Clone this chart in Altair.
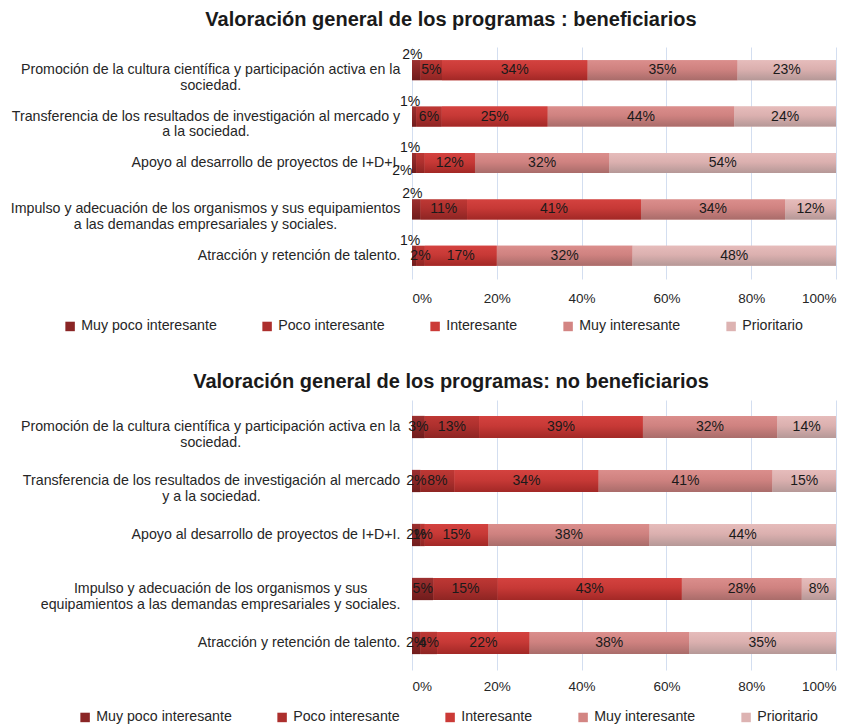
import altair as alt
import pandas as pd

# ---------------- data ----------------
niveles = ["Muy poco interesante", "Poco interesante", "Interesante",
           "Muy interesante", "Prioritario"]

programas_benef = [
    "Promoción de la cultura científica y participación activa en la|sociedad.",
    "Transferencia de los resultados de investigación al mercado y|a la sociedad.",
    "Apoyo al desarrollo de proyectos de I+D+I.",
    "Impulso y adecuación de los organismos y sus equipamientos|a las demandas empresariales y sociales.",
    "Atracción y retención de talento.",
]
programas_nobenef = [
    "Promoción de la cultura científica y participación activa en la|sociedad.",
    "Transferencia de los resultados de investigación al mercado|y a la sociedad.",
    "Apoyo al desarrollo de proyectos de I+D+I.",
    "Impulso y adecuación de los organismos y sus|equipamientos a las demandas empresariales y sociales.",
    "Atracción y retención de talento.",
]

benef_muy_poco = [2, 1, 1, 2, 1]
benef_poco = [5, 6, 2, 11, 2]
benef_interesante = [34, 25, 12, 41, 17]
benef_muy_interesante = [35, 44, 32, 34, 32]
benef_prioritario = [23, 24, 54, 12, 48]

nobenef_muy_poco = [3, 2, 2, 5, 2]
nobenef_poco = [13, 8, 1, 15, 4]
nobenef_interesante = [39, 34, 15, 43, 22]
nobenef_muy_interesante = [32, 41, 38, 28, 38]
nobenef_prioritario = [14, 15, 44, 8, 35]

titulo_benef = "Valoración general de los programas : beneficiarios"
titulo_nobenef = "Valoración general de los programas: no beneficiarios"

ticks_x = [0, 0.2, 0.4, 0.6, 0.8, 1.0]

# ---------------- style ----------------
FONT = "Liberation Sans"
LABEL_FS = 14.2
GAP = 12
TEXT_COLOR = "#262626"
GRID_COLOR = "#D3DEF0"
FLAT = ["#8A2525", "#AC2F2D", "#CB3A37", "#D38583", "#DDB3B2"]
GRAD = [
    ("#9C3030", "#8A2626", "#701C1C"),
    ("#BE3834", "#AE302E", "#8E2523"),
    ("#D4423F", "#C73936", "#A22826"),
    ("#DB8E8C", "#CF8280", "#A96C6A"),
    ("#E6BCBB", "#DBB0AF", "#B59897"),
]

ARIAL = {' ': 278, '.': 278, '+': 584, '%': 889, 'A': 667, 'D': 722, 'I': 278,
         'P': 667, 'T': 611, 'V': 667, 'M': 833,
         'a': 556, 'b': 556, 'c': 500, 'd': 556, 'e': 556, 'f': 278, 'g': 556,
         'h': 556, 'i': 222, 'j': 222, 'k': 500, 'l': 222, 'm': 833, 'n': 556,
         'o': 556, 'p': 556, 'q': 556, 'r': 333, 's': 500, 't': 278, 'u': 556,
         'v': 500, 'w': 722, 'x': 500, 'y': 500, 'z': 500,
         'á': 556, 'é': 556, 'í': 278, 'ó': 556, 'ú': 556}


def text_w(s, fs):
    return sum(ARIAL.get(c, 556) for c in s) * fs / 1000.0


def y_axis(programas):
    pads = []
    for p in programas:
        lines = p.split("|")
        if len(lines) > 1:
            w = max(text_w(l, LABEL_FS) for l in lines)
            pads.append({"test": "datum.value == '%s'" % p, "value": GAP + w / 2})
    return alt.Axis(
        labelExpr="split(datum.label, '|')",
        labelAlign={"condition": {"test": "indexof(datum.value, '|') >= 0", "value": "center"},
                    "value": "right"},
        labelPadding={"condition": pads, "value": GAP},
        labelFont=FONT, labelFontSize=LABEL_FS, labelColor=TEXT_COLOR,
        labelLineHeight=15.5, labelLimit=600, labelBaseline="middle",
        ticks=False, tickSize=0, domain=False, grid=False, title=None,
    )


def panel(programas, series, titulo, alto, p_inner, t_offset, x_pad, leg_x, leg_y, especiales):
    rows = []
    for i, prog in enumerate(programas):
        for j, nivel in enumerate(niveles):
            rows.append({"prog": prog, "nivel": nivel, "ord": j, "v": series[j][i]})
    df = pd.DataFrame(rows)

    base = alt.Chart(df).transform_stack(
        stack="v", groupby=["prog"], as_=["x0", "x1"], offset="normalize",
        sort=[alt.SortField("ord", order="ascending")],
    ).transform_calculate(mid="(datum.x0 + datum.x1) / 2", lab="datum.v + '%'")

    y = alt.Y("prog:N", sort=programas,
              scale=alt.Scale(paddingInner=p_inner, paddingOuter=p_inner / 2),
              axis=y_axis(programas))
    x = alt.X("x0:Q", scale=alt.Scale(domain=[0, 1], nice=False),
              axis=alt.Axis(format=".0%", values=ticks_x, grid=True, gridColor=GRID_COLOR,
                            gridWidth=1, domain=False, ticks=False, tickSize=0,
                            labelPadding=x_pad, labelFont=FONT, labelFontSize=13.5,
                            labelColor=TEXT_COLOR, title=None))

    bars = base.mark_bar().encode(
        x=x, x2="x1:Q", y=y,
        color=alt.Color("nivel:N", scale=alt.Scale(domain=niveles, range=FLAT),
                        legend=alt.Legend(orient="none", legendX=leg_x, legendY=leg_y,
                                          direction="horizontal", columns=5, title=None,
                                          symbolType="square", symbolSize=90,
                                          symbolStrokeWidth=0, labelFont=FONT,
                                          labelFontSize=LABEL_FS, labelColor=TEXT_COLOR,
                                          columnPadding=43, labelOffset=4)),
    )
    layers = [bars]
    for nivel, g in zip(niveles, GRAD):
        grad = alt.LinearGradient(
            gradient="linear", x1=0, x2=0, y1=0, y2=1,
            stops=[alt.GradientStop(color=g[0], offset=0),
                   alt.GradientStop(color=g[1], offset=0.45),
                   alt.GradientStop(color=g[2], offset=1)])
        layers.append(base.transform_filter(alt.datum.nivel == nivel)
                      .mark_bar(fill=grad)
                      .encode(x=x, x2="x1:Q", y=y))

    txt = dict(font=FONT, fontSize=14, color="#1A1A1A", align="center", baseline="middle")
    if especiales:
        normal = " && ".join("!(%s)" % e[0] for e in especiales)
        layers.append(base.transform_filter(normal).mark_text(**txt)
                      .encode(x="mid:Q", y=y, text="lab:N"))
        for cond, dx, dy in especiales:
            layers.append(base.transform_filter(cond).mark_text(dx=dx, dy=dy, **txt)
                          .encode(x="mid:Q", y=y, text="lab:N"))
    else:
        layers.append(base.mark_text(**txt).encode(x="mid:Q", y=y, text="lab:N"))

    return alt.layer(*layers).properties(
        width=424, height=alto,
        title=alt.TitleParams(titulo, font=FONT, fontSize=20, fontWeight="bold",
                              color="#1A1A1A", anchor="middle", frame="group",
                              dx=-173, offset=t_offset),
    )


c1 = panel(programas_benef,
           [benef_muy_poco, benef_poco, benef_interesante, benef_muy_interesante, benef_prioritario],
           titulo_benef, 232, 0.57, 17, 12, -349, 272,
           [("datum.nivel == 'Muy poco interesante'", -4, -15),
            ("datum.nivel == 'Poco interesante' && indexof(datum.prog, 'Apoyo') == 0", -18, 8)])
c2 = panel(programas_nobenef,
           [nobenef_muy_poco, nobenef_poco, nobenef_interesante, nobenef_muy_interesante,
            nobenef_prioritario],
           titulo_nobenef, 270, 0.59, 8, 9, -334, 310, [])

chart = alt.vconcat(c1, c2, spacing=38).resolve_scale(color="independent").resolve_legend(
    color="independent"
).properties(
    padding={"left": 2, "top": 2, "right": 5, "bottom": 0}
).configure_view(stroke=None)

chart.save("out.html", embed_options={"renderer": "svg", "actions": False})
